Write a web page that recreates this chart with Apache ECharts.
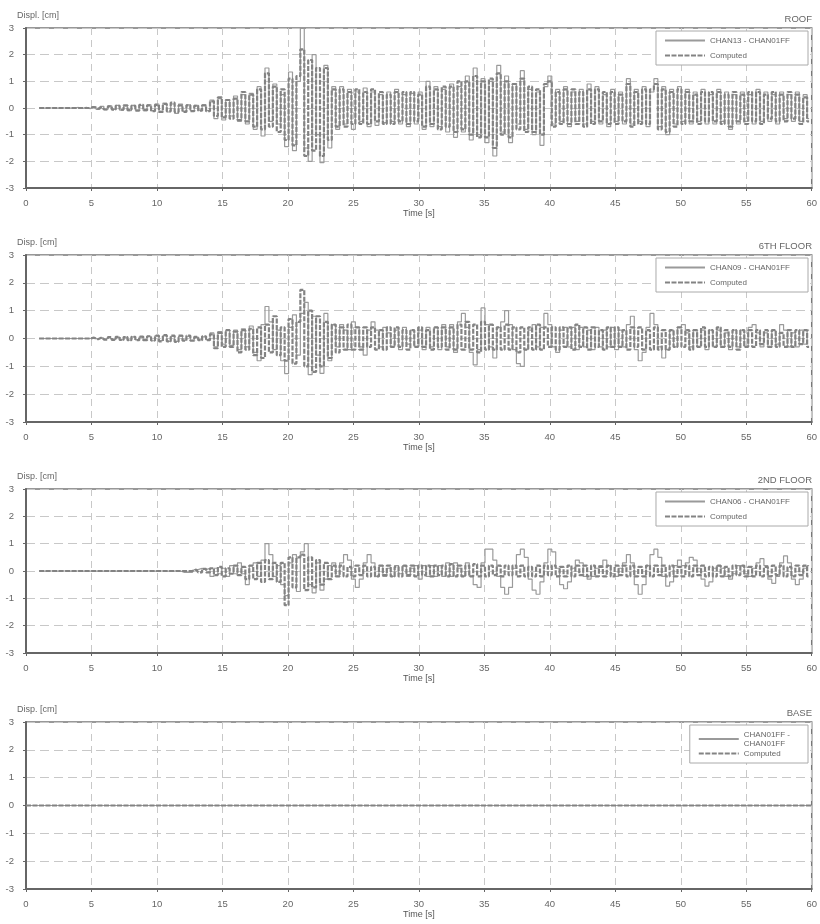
<!DOCTYPE html>
<html><head><meta charset="utf-8">
<script src="https://cdn.jsdelivr.net/npm/echarts@6/dist/echarts.min.js"></script>
<style>html,body{margin:0;padding:0;background:#fff}#c{width:820px;height:924px}</style>
</head><body><div id="c"></div>
<script>
// ---- data (sampled every 0.3 s starting at t = 1 s) ----
const sampleStart = 1.0;
const sampleStep = 0.3;
const xTicks = [0,5,10,15,20,25,30,35,40,45,50,55,60];
const yTicks = [-3,-2,-1,0,1,2,3];
const panelNames = ['ROOF','6TH FLOOR','2ND FLOOR','BASE'];
const yTitles = ['Displ. [cm]','Disp. [cm]','Disp. [cm]','Disp. [cm]'];
const measuredNames = ['CHAN13 - CHAN01FF','CHAN09 - CHAN01FF','CHAN06 - CHAN01FF','CHAN01FF -\nCHAN01FF'];

const roofMeasured = [
0,0,0,0,0,0,0,0,0,0,0.02,-0.02,0.03,-0.03,
0.05,-0.05,0.06,-0.06,0.08,-0.05,0.1,-0.08,0.08,-0.1,0.1,-0.08,0.1,-0.1,0.12,-0.1,
0.15,-0.12,0.18,-0.15,0.15,-0.2,0.15,-0.12,0.12,-0.1,0.1,-0.08,0.12,-0.1,
0.3,-0.4,0.35,-0.45,0.3,-0.3,0.45,-0.5,0.5,-0.6,0.55,-0.8,0.8,
-1.05,1.5,-0.5,0.9,-0.6,0.5,-1.45,1.35,-1.6,1.0,3.0,-1.5,-2.0,2.0,-1.0,-2.05,1.6,-1.5,0.8,
-0.8,0.8,-0.6,0.7,-0.8,0.6,-0.5,0.75,-0.7,0.6,-0.65,0.5,-0.55,0.6,-0.5,0.7,-0.6,0.5,-0.7,0.55,-0.6,
0.6,-0.8,1.0,-0.7,0.8,-0.7,0.7,-0.9,0.9,-1.1,0.8,-0.9,1.2,-1.2,1.5,-1.0,1.1,-1.3,1.0,-1.8,1.6,
-0.9,1.2,-1.3,0.9,-0.6,1.4,-0.8,0.7,-1.0,0.6,-1.4,0.8,1.2,
-0.6,0.7,-0.5,0.8,-0.7,0.6,-0.5,0.7,-0.6,0.9,-0.5,0.8,-0.6,0.5,-0.7,0.7,-0.5,0.6,-0.6,
1.1,-0.6,0.7,-0.5,0.8,-0.7,0.6,1.1,-0.7,0.8,-1.0,0.7,-0.6,0.8,-0.5,0.7,-0.6,
0.6,-0.5,0.7,-0.6,0.5,-0.6,0.7,-0.5,0.6,-0.8,0.5,-0.6,0.6,-0.5,0.5,-0.6,0.7,-0.5,0.6,-0.5,0.5,-0.6,0.6,-0.4,0.5,-0.5,0.6,-0.5,0.5,-0.4
];
const roofComputed = [
0,0,0,0,0,0,0,0,0,0,0,0,0,0,
0.03,-0.03,0.04,-0.05,0.06,-0.06,0.08,-0.06,0.1,-0.08,0.08,-0.1,0.12,-0.08,0.1,-0.12,
0.12,-0.15,0.15,-0.12,0.2,-0.15,0.1,-0.15,0.1,-0.12,0.08,-0.1,0.1,-0.12,
0.25,-0.3,0.4,-0.35,0.3,-0.4,0.35,-0.45,0.6,-0.5,0.5,-0.7,0.7,
-0.8,1.3,-0.7,0.8,-0.9,0.7,-1.2,1.1,-1.4,1.2,2.2,-1.8,1.8,-1.6,1.5,-1.8,1.5,-1.2,0.7,
-0.7,0.7,-0.7,0.6,-0.6,0.7,-0.6,0.6,-0.6,0.7,-0.5,0.6,-0.6,0.5,-0.6,0.6,-0.5,0.6,-0.6,0.6,-0.5,
0.5,-0.7,0.8,-0.6,0.7,-0.8,0.8,-0.7,0.8,-0.9,1.0,-0.8,1.0,-1.0,1.2,-1.1,1.0,-1.1,1.1,-1.5,1.3,
-1.0,1.0,-1.1,0.9,-0.8,1.1,-0.9,0.8,-0.9,0.7,-1.0,0.9,1.0,
-0.7,0.6,-0.6,0.7,-0.6,0.7,-0.6,0.6,-0.7,0.7,-0.6,0.7,-0.5,0.6,-0.6,0.6,-0.6,0.5,-0.5,
0.9,-0.7,0.6,-0.6,0.7,-0.6,0.7,0.9,-0.8,0.7,-0.9,0.6,-0.7,0.7,-0.6,0.6,-0.5,
0.5,-0.6,0.6,-0.5,0.6,-0.5,0.6,-0.6,0.5,-0.7,0.6,-0.5,0.5,-0.6,0.6,-0.5,0.6,-0.6,0.5,-0.4,0.6,-0.5,0.5,-0.5,0.6,-0.4,0.5,-0.6,0.4,-0.5
];
const sixthMeasured = [
0,0,0,0,0,0,0,0,0,0,0,0,0,0,
0.02,-0.02,0.03,-0.03,0.04,-0.04,0.05,-0.05,0.05,-0.06,0.06,-0.05,0.06,-0.06,0.08,-0.08,
0.1,-0.08,0.1,-0.1,0.08,-0.1,0.08,-0.06,0.08,-0.06,0.05,-0.05,0.06,-0.05,
0.2,-0.3,0.25,-0.2,0.3,-0.25,0.3,-0.4,0.35,-0.3,0.45,-0.5,-0.8,
0.5,1.15,0.6,-0.4,0.3,-0.8,-1.26,0.4,0.85,-0.6,0.9,1.3,-1.3,0.8,-0.6,-1.25,0.9,-0.8,0.5,
-0.3,0.5,0.3,-0.4,0.6,0.4,-0.3,-0.6,0.3,0.6,0.3,-0.3,0.4,0.2,-0.3,0.3,-0.4,0.4,-0.2,0.3,-0.3,
0.3,-0.4,0.4,-0.3,0.4,-0.4,0.5,-0.3,0.5,-0.5,0.6,0.9,0.4,-0.5,-0.95,-0.4,1.1,0.5,-0.3,-0.7,0.4,
0.6,1.0,0.5,-0.4,-0.9,-1.0,-0.4,0.3,0.5,-0.3,0.4,0.9,0.5,
-0.3,-0.5,0.3,0.4,-0.3,0.4,-0.4,0.4,-0.3,0.3,-0.4,0.4,-0.3,0.3,-0.3,0.4,-0.4,0.3,-0.3,
0.5,0.8,-0.4,-0.8,-0.5,0.4,0.9,0.5,-0.3,-0.7,-0.4,0.3,-0.3,0.4,0.5,0.2,-0.3,
0.3,-0.3,0.3,-0.4,0.3,-0.3,0.3,-0.3,0.2,-0.4,0.3,-0.3,0.3,-0.3,0.4,0.5,0.2,-0.3,0.2,-0.3,0.3,-0.2,0.5,0.3,-0.3,0.2,-0.3,0.3,-0.2,0.3
];
const sixthComputed = [
0,0,0,0,0,0,0,0,0,0,0,0,0,0,
0.03,-0.03,0.04,-0.04,0.05,-0.05,0.06,-0.05,0.05,-0.06,0.06,-0.06,0.07,-0.06,0.08,-0.07,
0.1,-0.1,0.12,-0.1,0.1,-0.12,0.1,-0.08,0.1,-0.08,0.06,-0.06,0.08,-0.06,
0.15,-0.35,0.2,-0.3,0.3,-0.3,0.25,-0.5,0.3,-0.4,0.35,-0.6,0.4,
-0.7,0.5,-0.5,0.8,-0.6,0.4,-0.8,0.7,-0.9,0.6,1.75,-1.0,1.0,-1.2,0.8,-1.0,0.6,-0.7,0.5,
-0.5,0.4,-0.4,0.5,-0.4,0.4,-0.4,0.4,-0.3,0.4,-0.4,0.3,-0.4,0.4,-0.3,0.4,-0.3,0.3,-0.4,0.3,-0.3,
0.4,-0.3,0.3,-0.4,0.4,-0.3,0.4,-0.4,0.4,-0.4,0.5,-0.4,0.6,-0.4,0.5,-0.5,0.6,-0.4,0.5,-0.4,0.4,
-0.4,0.5,-0.4,0.4,-0.5,0.4,-0.4,0.4,-0.4,0.5,-0.4,0.4,-0.3,
0.4,-0.4,0.4,-0.3,0.4,-0.4,0.5,-0.3,0.4,-0.4,0.4,-0.3,0.3,-0.4,0.4,-0.3,0.4,-0.3,0.3,
-0.4,0.4,-0.3,0.4,-0.4,0.3,-0.4,0.4,-0.4,0.3,-0.4,0.3,-0.3,0.4,-0.3,0.3,-0.4,
0.3,-0.3,0.4,-0.3,0.3,-0.3,0.4,-0.3,0.3,-0.3,0.3,-0.4,0.3,-0.3,0.3,-0.3,0.3,-0.2,0.3,-0.3,0.3,-0.3,0.2,-0.3,0.3,-0.3,0.3,-0.2,0.3,-0.3
];
const secondMeasured = [
0,0,0,0,0,0,0,0,0,0,0,0,0,0,0,0,0,0,0,0,0,0,0,0,0,0,0,0,0,0,0,0,0,0,0,0,0,
-0.05,-0.05,-0.05,0.05,0.1,0.05,0.1,
-0.2,0.1,-0.1,0.1,-0.2,0.2,-0.1,0.3,-0.1,-0.5,0.2,0.3,-0.2,
0.4,1.0,0.6,-0.2,0.2,-0.5,-0.9,0.3,0.6,-0.75,0.7,1.0,-0.5,-0.8,0.3,-0.7,-0.3,0.2,0.3,
-0.2,0.3,0.6,0.4,-0.3,-0.6,-0.3,0.3,0.6,0.3,-0.2,0.2,-0.2,0.1,-0.2,0.2,-0.1,0.2,-0.2,0.1,0.2,
-0.3,0.2,-0.2,0.2,-0.2,0.2,-0.2,0.3,-0.2,0.3,0.1,-0.2,0.3,-0.2,-0.5,-0.6,0.3,0.8,0.8,0.4,-0.2,
-0.6,-0.85,-0.6,0.1,0.6,0.8,0.5,-0.3,-0.7,-0.85,-0.4,0.3,0.8,
0.7,0.1,-0.5,-0.65,-0.4,0.1,0.4,0.3,-0.2,-0.3,-0.2,0.1,0.2,0.4,0.2,-0.1,-0.2,0.1,0.3,
0.6,0.3,-0.5,-0.85,-0.5,0.2,0.6,0.8,0.5,-0.2,-0.55,-0.4,0.2,0.4,0.2,0.3,0.5,
0.4,0.1,-0.3,-0.55,-0.4,0.1,0.2,0.1,-0.2,-0.3,-0.1,0.2,0.2,-0.1,-0.2,0.1,0.3,0.45,0.2,-0.3,-0.45,-0.2,0.3,0.55,0.3,-0.3,-0.5,-0.3,0.1,0.2
];
const secondComputed = [
0,0,0,0,0,0,0,0,0,0,0,0,0,0,0,0,0,0,0,0,0,0,0,0,0,0,0,0,0,0,0,0,0,0,0,0,0,0,0,0,
0.05,-0.05,0.08,-0.05,
0.1,-0.15,0.15,-0.2,0.1,-0.1,0.2,-0.15,0.15,-0.3,0.2,-0.3,0.3,
-0.4,0.4,-0.3,0.3,-0.4,0.3,-1.25,0.5,-0.6,0.5,0.6,-0.7,0.5,-0.6,0.4,-0.5,0.3,-0.3,0.2,
-0.2,0.2,-0.2,0.15,-0.2,0.2,-0.15,0.2,-0.2,0.15,-0.2,0.2,-0.15,0.2,-0.2,0.15,-0.2,0.2,-0.15,0.2,-0.2,
0.2,-0.15,0.2,-0.2,0.2,-0.15,0.2,-0.2,0.25,-0.2,0.2,-0.2,0.2,-0.2,0.25,-0.2,0.2,-0.2,0.2,-0.15,0.2,
-0.2,0.2,-0.15,0.2,-0.2,0.2,-0.2,0.15,-0.2,0.2,-0.2,0.2,-0.15,
0.2,-0.2,0.15,-0.2,0.2,-0.2,0.2,-0.15,0.2,-0.2,0.2,-0.2,0.15,-0.2,0.2,-0.2,0.2,-0.15,0.2,
-0.2,0.2,-0.2,0.15,-0.2,0.2,-0.2,0.2,-0.15,0.2,-0.2,0.2,-0.2,0.15,-0.2,0.2,-0.2,
0.2,-0.15,0.2,-0.2,0.15,-0.2,0.2,-0.2,0.15,-0.2,0.2,-0.15,0.2,-0.2,0.15,-0.2,0.2,-0.2,0.15,-0.2,0.2,-0.15,0.2,-0.2,0.15,-0.2,0.2,-0.15,0.2,-0.2
];
const baseTimes = [0, 60];
const baseMeasured = [0, 0];
const baseComputed = [0, 0];

// ---- build ----
function sampled(values){ return values.map((v,i)=>[+(sampleStart+i*sampleStep).toFixed(2), v]); }
function timed(times, values){ return values.map((v,i)=>[times[i], v]); }

const measuredData = [sampled(roofMeasured), sampled(sixthMeasured), sampled(secondMeasured), timed(baseTimes, baseMeasured)];
const computedData = [sampled(roofComputed), sampled(sixthComputed), sampled(secondComputed), timed(baseTimes, baseComputed)];

const panels = [
  {top:28, height:160},
  {top:255, height:167},
  {top:489, height:164},
  {top:722, height:167}
];
const FONT = 'Liberation Sans, Arial, sans-serif';
const grid=[], xAxis=[], yAxis=[], series=[], title=[], legend=[];
panels.forEach((p,k)=>{
  grid.push({left:26, right:5, top:p.top, height:p.height, show:true, borderColor:'#777', borderWidth:1.5, backgroundColor:'transparent'});
  xAxis.push({type:'value', gridIndex:k, min:xTicks[0], max:xTicks[xTicks.length-1], interval:5,
    name:'Time [s]', nameLocation:'middle', nameGap:21,
    nameTextStyle:{fontSize:9, color:'#555', fontFamily:FONT},
    axisLine:{show:true, onZero:false, lineStyle:{color:'#666', width:2}},
    axisTick:{show:true, length:3, lineStyle:{color:'#666'}},
    axisLabel:{fontSize:9.5, color:'#666', margin:10, fontFamily:FONT},
    splitLine:{show:true, lineStyle:{color:'#c8c8c8', type:[7,5], width:1}}});
  yAxis.push({type:'value', gridIndex:k, min:yTicks[0], max:yTicks[yTicks.length-1], interval:1,
    axisLine:{show:true, onZero:false, lineStyle:{color:'#666', width:2}},
    axisTick:{show:true, length:3, lineStyle:{color:'#666'}},
    axisLabel:{fontSize:9.5, color:'#666', margin:12, fontFamily:FONT},
    splitLine:{show:true, lineStyle:{color:'#c8c8c8', type:[9,5], width:1}}});
  title.push({text:yTitles[k], left:12, top:p.top-22, textStyle:{fontSize:9, fontWeight:'normal', color:'#666', fontFamily:FONT}});
  title.push({text:panelNames[k], right:3, top:p.top-19, textStyle:{fontSize:9.5, fontWeight:'normal', color:'#666', fontFamily:FONT}});
  series.push({name:measuredNames[k], type:'line', xAxisIndex:k, yAxisIndex:k, data:measuredData[k], step:'middle',
    showSymbol:false, symbol:'none', lineStyle:{color:'#9a9a9a', width:1.2}, itemStyle:{color:'#9a9a9a'}, silent:true, animation:false, z:3});
  series.push({name:'Computed', type:'line', xAxisIndex:k, yAxisIndex:k, data:computedData[k], step:'middle',
    showSymbol:false, symbol:'none', lineStyle:{color:'#838383', width:2.2, type:[5,1.5]}, itemStyle:{color:'#838383'}, silent:true, animation:false, z:4});
  legend.push({data:[measuredNames[k],'Computed'], orient:'vertical', right:12, top:p.top+3,
    backgroundColor:'#fff', borderColor:'#aaa', borderWidth:1, padding:[5,18,5,8], itemGap:k===3?1:6,
    itemWidth:40, itemHeight:8, selectedMode:false, itemStyle:{opacity:0},
    textStyle:{fontSize:8, color:'#666', fontFamily:FONT, lineHeight:9}});
});

const chart = echarts.init(document.getElementById('c'), null, {renderer:'canvas'});
chart.setOption({backgroundColor:'#fff', animation:false, title, legend, grid, xAxis, yAxis, series});
</script>
</body></html>
